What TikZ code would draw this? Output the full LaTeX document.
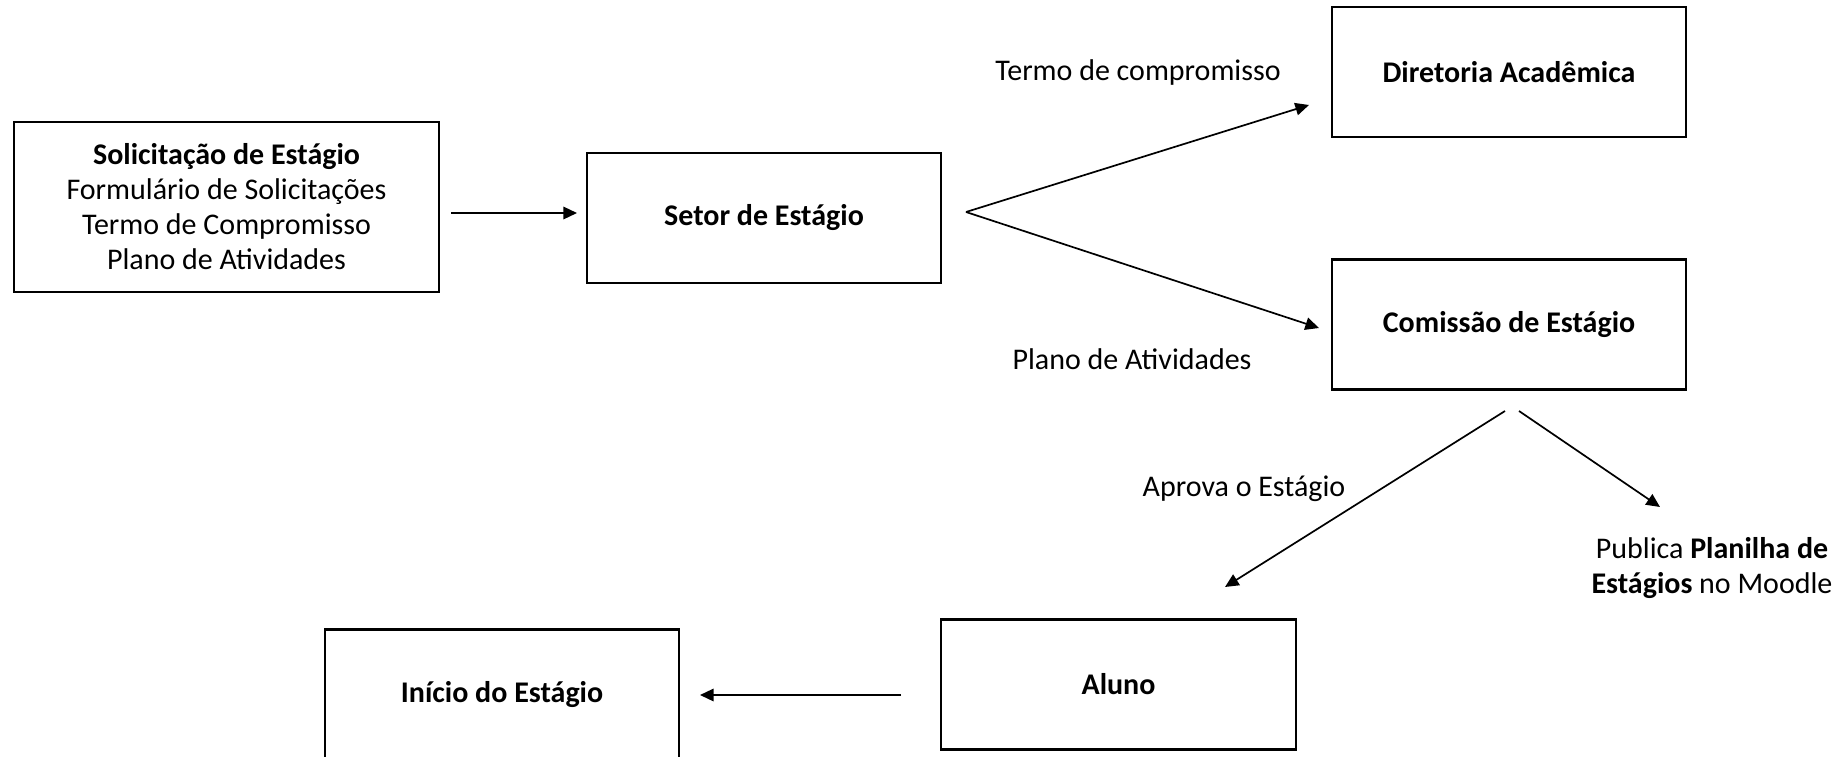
\documentclass[tikz,border=0pt]{standalone}
\usepackage{fontspec}
\setmainfont{Carlito}
\usepackage{tikz}
\usetikzlibrary{positioning,arrows.meta}
\tikzset{every picture/.style={line width=0.75pt}}
\newcommand{\tamanho}{\fontsize{13.2}{15.4}\selectfont}
\tikzset{
  caixa/.style={draw, line width=1pt, minimum width=156pt, minimum height=57.2pt, font=\tamanho\bfseries, align=center},
  rotulo/.style={font=\tamanho, align=center},
  seta/.style={-{Triangle[length=6pt,width=5.5pt]}}
}

\begin{document}
\begin{tikzpicture}[x=0.44pt,y=-0.44pt]
\useasboundingbox (0,0) rectangle (1847,756);
\node[caixa, minimum width=187pt, minimum height=74.6pt, font=\tamanho] (sol) at (226.5,207) {\textbf{Solicitação de Estágio}\\Formulário de Solicitações\\Termo de Compromisso\\Plano de Atividades};
\node[caixa] (setor) at (764,218) {Setor de Estágio};
\node[caixa] (dir) at (1509,72) {Diretoria Acadêmica};
\node[caixa] (com) at (1509,324.5) {Comissão de Estágio};
\node[caixa] (aluno) at (1118.5,684.5) {Aluno};
\node[caixa] (ini) at (502,694.5) {Início do Estágio};
%
\node[rotulo] (l1) at (1138,72) {Termo de compromisso};
\node[rotulo] (l2) at (1132,359) {Plano de Atividades};
\node[rotulo] (l3) at (1244,489) {Aprova o Estágio};
\node[rotulo] (l4) at (1712,568) {Publica \textbf{Planilha de}\\\textbf{Estágios} no Moodle};
%
\coordinate (a0) at (451,213);
\coordinate (a1) at (577,213);
\coordinate (p0) at (966,212);
\coordinate (p1) at (1309,105);
\coordinate (p2) at (1319,328);
\coordinate (c0) at (1505,411);
\coordinate (c1) at (1225,587);
\coordinate (c2) at (1519,411);
\coordinate (c3) at (1660,507);
\coordinate (t0) at (901,695);
\coordinate (t1) at (700,695);
%
\draw[seta] (a0) -- (a1);
\draw[seta] (p0) -- (p1);
\draw[seta] (p0) -- (p2);
\draw[seta] (c0) -- (c1);
\draw[seta] (c2) -- (c3);
\draw[seta] (t0) -- (t1);
\end{tikzpicture}
\end{document}
